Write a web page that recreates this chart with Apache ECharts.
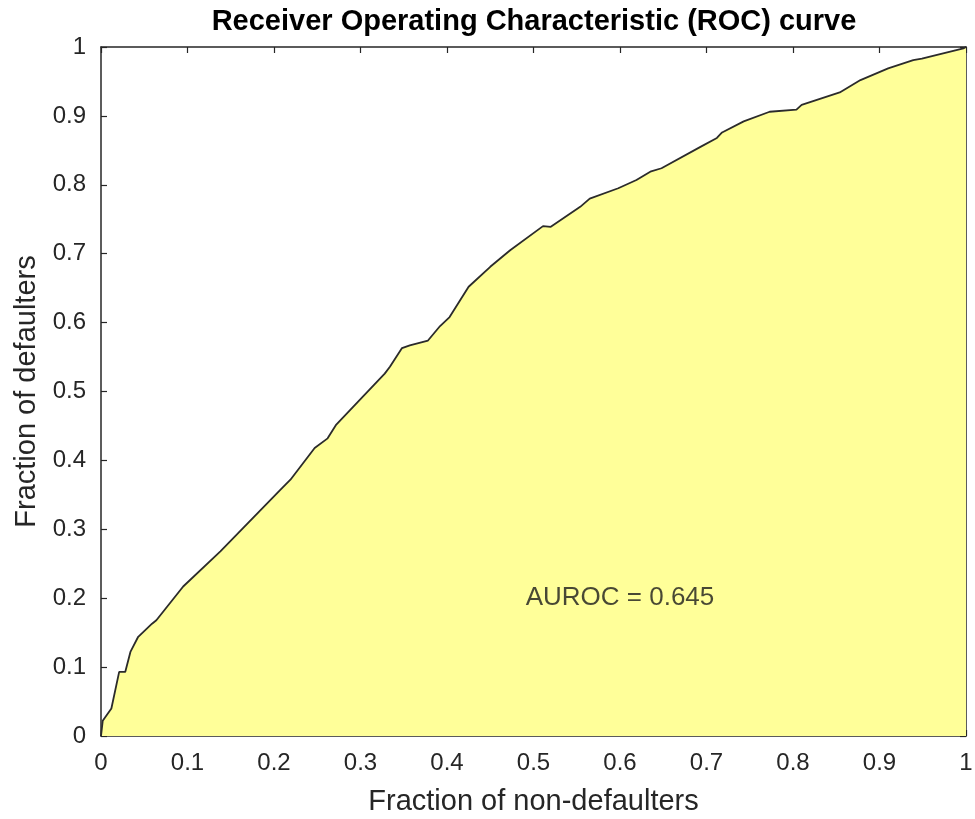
<!DOCTYPE html>
<html>
<head>
<meta charset="utf-8">
<script src="https://cdn.jsdelivr.net/npm/echarts@6/dist/echarts.min.js"></script>
<style>
html,body{margin:0;padding:0;background:#fff;}
#chart{width:975px;height:819px;}
</style>
</head>
<body>
<div id="chart"></div>
<script>
// Data
const fractionNonDefaulters = [0, 0.002, 0.012, 0.021, 0.028, 0.034, 0.043, 0.059, 0.064, 0.095, 0.138, 0.207, 0.219, 0.247, 0.262, 0.272, 0.303, 0.328, 0.334, 0.348, 0.357, 0.378, 0.392, 0.403, 0.415, 0.425, 0.450, 0.473, 0.511, 0.520, 0.554, 0.565, 0.598, 0.619, 0.635, 0.648, 0.693, 0.712, 0.718, 0.743, 0.773, 0.804, 0.810, 0.854, 0.878, 0.910, 0.939, 0.949, 0.997, 1];
const fractionDefaulters = [0, 0.022, 0.040, 0.093, 0.093, 0.122, 0.144, 0.163, 0.168, 0.217, 0.268, 0.357, 0.372, 0.418, 0.432, 0.452, 0.493, 0.526, 0.536, 0.563, 0.567, 0.574, 0.595, 0.608, 0.632, 0.652, 0.681, 0.705, 0.740, 0.739, 0.768, 0.780, 0.795, 0.807, 0.819, 0.824, 0.855, 0.868, 0.876, 0.892, 0.906, 0.909, 0.916, 0.934, 0.952, 0.969, 0.981, 0.983, 0.998, 1];
const tickValues = [0, 0.1, 0.2, 0.3, 0.4, 0.5, 0.6, 0.7, 0.8, 0.9, 1];
const titleText = 'Receiver Operating Characteristic (ROC) curve';
const xLabel = 'Fraction of non-defaulters';
const yLabel = 'Fraction of defaulters';
const annotationText = 'AUROC = 0.645';
const annotationPos = [0.6, 0.2];

const curve = fractionNonDefaulters.map((x, i) => [x, fractionDefaulters[i]]);
const axisColor = '#262626';
const fontFamily = '"Liberation Sans", Arial, Helvetica, sans-serif';
const fmt = v => {
  const t = tickValues.find(tv => Math.abs(tv - v) < 1e-9);
  return t === undefined ? '' : String(+t.toFixed(1));
};

const chart = echarts.init(document.getElementById('chart'), null, {renderer: 'canvas'});
const baseAxis = {
  min: 0, max: 1, interval: 0.1,
  axisLine: {show: true, onZero: false, lineStyle: {color: axisColor, width: 1.5}},
  axisTick: {show: true, inside: true, length: 6, lineStyle: {color: axisColor, width: 1.2}},
  splitLine: {show: false}
};
chart.setOption({
  animation: false,
  backgroundColor: '#ffffff',
  grid: {left: 101, right: 9, top: 47, bottom: 83, containLabel: false, outerBoundsMode: 'none'},
  graphic: [{
    type: 'text', x: 534, y: 22,
    style: {text: titleText, font: 'bold 29px ' + fontFamily, fill: '#000', textAlign: 'center', textVerticalAlign: 'middle'}
  }],
  xAxis: [
    Object.assign({}, baseAxis, {
      type: 'value', position: 'bottom',
      name: xLabel, nameLocation: 'middle', nameGap: 51,
      nameTextStyle: {fontSize: 29, color: axisColor, fontFamily: fontFamily},
      axisLabel: {formatter: fmt, fontSize: 24, color: axisColor, margin: 15, fontFamily: fontFamily}
    }),
    Object.assign({}, baseAxis, {
      type: 'value', position: 'top', axisLabel: {show: false}
    })
  ],
  yAxis: [
    Object.assign({}, baseAxis, {
      type: 'value', position: 'left',
      name: yLabel, nameLocation: 'middle', nameGap: 57,
      nameTextStyle: {fontSize: 29, color: axisColor, fontFamily: fontFamily},
      axisLabel: {formatter: fmt, fontSize: 24, color: axisColor, margin: 15, fontFamily: fontFamily}
    }),
    Object.assign({}, baseAxis, {
      type: 'value', position: 'right', axisLabel: {show: false}
    })
  ],
  series: [
    {
      type: 'line', data: curve, xAxisIndex: 0, yAxisIndex: 0,
      showSymbol: false, symbol: 'none', smooth: false,
      lineStyle: {color: '#2b2b2b', width: 1.8},
      areaStyle: {color: '#ffff99', opacity: 1, origin: 'start'},
      z: 1
    },
    {
      type: 'scatter', data: [annotationPos], xAxisIndex: 0, yAxisIndex: 0,
      symbolSize: 1, itemStyle: {color: 'rgba(0,0,0,0)'},
      label: {show: true, position: 'inside', formatter: annotationText, fontSize: 26, color: '#1a1a1a', fontFamily: fontFamily},
      silent: true, z: 5
    }
  ]
});
</script>
</body>
</html>
